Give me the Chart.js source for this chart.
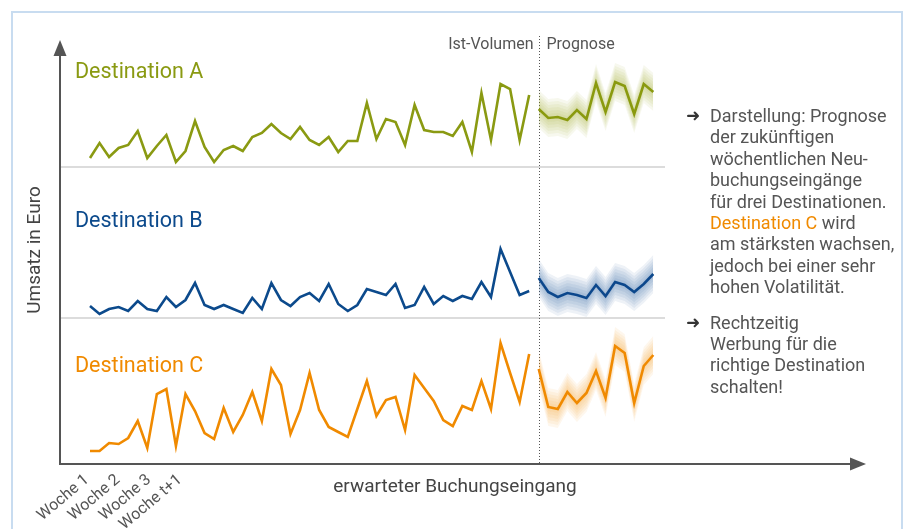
<!DOCTYPE html>
<html>
<head>
<meta charset="utf-8">
<script src="https://cdn.jsdelivr.net/npm/chart.js@4"></script>
<style>
  body { margin: 0; background: #fff; font-family: Roboto, "Noto Sans", sans-serif; }
  #wrap { position: relative; width: 909px; height: 529px; overflow: hidden; }
  #frame { position: absolute; left: 11px; top: 11px; width: 892px; height: 540px; border: 2px solid #c8dcf0; box-sizing: border-box; }
  #chart { position: absolute; left: 0; top: 0; }
  #note { position: absolute; left: 686px; top: 105px; font-size: 18px; line-height: 21.4px; color: #555; white-space: nowrap; }
  #note p { margin: 0 0 14px 0; padding-left: 24px; position: relative; }
  #note p span.arr { position: absolute; left: 0; top: 0; color: #333; font-family: "DejaVu Sans", sans-serif; font-size: 17px; font-weight: bold; }
  #note .c { color: #f08a00; }
</style>
</head>
<body>
<div id="wrap">
  <div id="frame"></div>
  <canvas id="chart" width="909" height="529"></canvas>
  <div id="note">
    <p><span class="arr">➜</span>Darstellung: Prognose<br>der zukünftigen<br>wöchentlichen Neu-<br>buchungseingänge<br>für drei Destinationen.<br><span class="c">Destination C</span> wird<br>am stärksten wachsen,<br>jedoch bei einer sehr<br>hohen Volatilität.</p>
    <p><span class="arr">➜</span>Rechtzeitig<br>Werbung für die<br>richtige Destination<br>schalten!</p>
  </div>
</div>
<script>
// Wöchentliche Werte (Höhe über der x-Achse)
var histA = [306, 321, 307, 316, 319, 333, 306, 318, 329, 302, 313, 343, 317, 302, 314, 318, 313, 327, 331, 340, 331, 325, 337, 324,
             319, 327, 312, 323, 323, 361, 325, 345, 342, 319, 359, 334, 332, 332, 328, 342, 312, 371, 324, 380, 375, 324, 369];
var foreA = [355, 346, 347, 344, 354, 345, 381, 352, 382, 378, 350, 380, 372];

var histB = [158, 150, 155, 157, 153, 163, 155, 153, 167, 157, 164, 181, 159, 155, 159, 155, 151, 166, 155, 181, 164, 158, 167, 171,
             163, 180, 160, 153, 159, 175, 172, 169, 180, 156, 159, 177, 160, 168, 163, 168, 165, 182, 167, 215, 192, 169, 173];
var foreB = [186, 172, 167, 171, 169, 166, 179, 168, 182, 179, 172, 180, 190];

var histC = [13, 13, 21, 20, 26, 43, 16, 70, 75, 18, 70, 53, 31, 25, 56, 32, 49, 72, 43, 95, 79, 30, 54, 91,
             54, 37, 32, 27, 55, 83, 48, 64, 67, 34, 89, 76, 63, 44, 38, 58, 54, 83, 55, 121, 91, 62, 110];
var foreC = [95, 57, 55, 72, 61, 71, 93, 66, 118, 111, 61, 98, 109];

var seriesNames = ['Destination A', 'Destination B', 'Destination C'];
var seriesColors = ['#8a9a12', '#0c4a8c', '#f08a00'];
var bandRgb = ['138,154,18', '12,74,140', '240,138,0'];
var bandWidths = [19, 16, 13, 10, 7, 4];
var weekLabels = ['Woche 1', 'Woche 2', 'Woche 3', 'Woche t+1'];

function pts(values, start) {
    return values.map(function(v, i) { return { x: start + i, y: v }; });
}

var datasets = [];
var allHist = [histA, histB, histC];
var allFore = [foreA, foreB, foreC];

for (var s = 0; s < 3; s++) {
    var start = allHist[s].length;
    // Unsicherheitsband der Prognose
    bandWidths.forEach(function(w) {
        datasets.push({
            data: allFore[s].map(function(v, i) { return { x: start + i, y: v + w }; }),
            borderWidth: 0, pointRadius: 0, fill: false
        });
        datasets.push({
            data: allFore[s].map(function(v, i) { return { x: start + i, y: v - w }; }),
            borderWidth: 0, pointRadius: 0, fill: '-1',
            backgroundColor: 'rgba(' + bandRgb[s] + ',0.07)'
        });
    });
    datasets.push({
        label: seriesNames[s],
        data: pts(allHist[s], 0),
        borderColor: seriesColors[s], borderWidth: 2.6, pointRadius: 0, fill: false
    });
    datasets.push({
        label: seriesNames[s] + ' Prognose',
        data: pts(allFore[s], start),
        borderColor: seriesColors[s], borderWidth: 2.6, pointRadius: 0, fill: false
    });
}

var decor = {
    id: 'decor',
    beforeDatasetsDraw: function(chart) {
        var c = chart.ctx, x = chart.scales.x;
        var left = chart.chartArea.left, bottom = chart.chartArea.bottom;
        c.save();
        // Trennlinien
        c.strokeStyle = '#dcdcdc';
        c.lineWidth = 2;
        [167, 318].forEach(function(py) {
            c.beginPath(); c.moveTo(left, py); c.lineTo(665, py); c.stroke();
        });
        // Grenze Ist / Prognose
        var px = Math.round(x.getPixelForValue(histA.length)) + 0.5;
        c.strokeStyle = '#555';
        c.lineWidth = 1;
        c.setLineDash([1, 2]);
        c.beginPath(); c.moveTo(px, 36); c.lineTo(px, bottom); c.stroke();
        c.setLineDash([]);
        c.fillStyle = '#555';
        c.font = '16px Roboto';
        c.textBaseline = 'middle';
        c.textAlign = 'right';
        c.fillText('Ist-Volumen', px - 6, 45);
        c.textAlign = 'left';
        c.fillText('Prognose', px + 7, 45);
        c.restore();
    },
    afterDraw: function(chart) {
        var c = chart.ctx;
        var a = chart.chartArea;
        c.save();
        // Achsen mit Pfeilen
        c.strokeStyle = '#555';
        c.fillStyle = '#555';
        c.lineWidth = 2;
        c.beginPath();
        c.moveTo(a.left, a.top + 12); c.lineTo(a.left, a.bottom); c.lineTo(a.right - 8, a.bottom);
        c.stroke();
        c.beginPath();
        c.moveTo(a.left, a.top); c.lineTo(a.left - 6.5, a.top + 16); c.lineTo(a.left + 6.5, a.top + 16); c.closePath();
        c.fill();
        c.beginPath();
        c.moveTo(a.right + 6, a.bottom); c.lineTo(a.right - 10, a.bottom - 6.5); c.lineTo(a.right - 10, a.bottom + 6.5); c.closePath();
        c.fill();

        // Serienbeschriftungen
        c.font = '21.5px Roboto';
        c.textAlign = 'left';
        c.textBaseline = 'middle';
        [73, 222, 367].forEach(function(py, i) {
            c.fillStyle = seriesColors[i];
            c.fillText(seriesNames[i], 75, py);
        });

        // Achsentitel
        c.fillStyle = '#444';
        c.font = '19px Roboto';
        c.textAlign = 'center';
        c.fillText('erwarteter Buchungseingang', 455, 487);
        c.save();
        c.translate(35, 250);
        c.rotate(-Math.PI / 2);
        c.fillText('Umsatz in Euro', 0, 0);
        c.restore();

        // Wochen
        c.fillStyle = '#555';
        c.font = '16px Roboto';
        c.textAlign = 'right';
        weekLabels.forEach(function(t, i) {
            c.save();
            c.translate(87 + i * 31, 478);
            c.rotate(-40 * Math.PI / 180);
            c.fillText(t, 0, 0);
            c.restore();
        });
        c.restore();
    }
};

new Chart(document.getElementById('chart').getContext('2d'), {
    type: 'line',
    data: { datasets: datasets },
    options: {
        responsive: false,
        animation: false,
        layout: { padding: { left: 60, right: 49, top: 40, bottom: 65 } },
        plugins: { legend: { display: false }, tooltip: { enabled: false } },
        elements: { line: { tension: 0 } },
        scales: {
            x: { type: 'linear', min: -3.142, max: 80.65, display: false },
            y: { type: 'linear', min: 0, max: 424, display: false }
        }
    },
    plugins: [decor]
});
</script>
</body>
</html>
